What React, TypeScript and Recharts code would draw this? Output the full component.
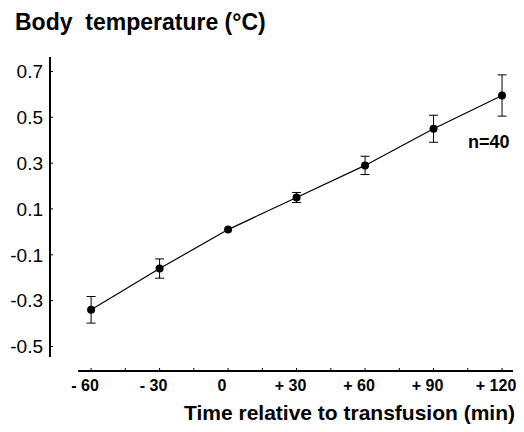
import React from 'react'
import {
  ComposedChart,
  Line,
  XAxis,
  YAxis,
  ErrorBar,
  ReferenceLine,
} from 'recharts'

// time relative to transfusion (min)
const times = [-60, -30, 0, 30, 60, 90, 120]
// mean change in body temperature (°C)
const temps = [-0.34, -0.16, 0.01, 0.15, 0.29, 0.45, 0.595]
// error bar half-length
const errors = [0.058, 0.042, 0, 0.022, 0.04, 0.059, 0.09]

const xTicks = [-60, -45, -30, -15, 0, 15, 30, 45, 60, 75, 90, 105, 120]
const xLabelValues = [-60, -30, 0, 30, 60, 90, 120]
const xLabelTexts = ['- 60', '- 30', '0', '+ 30', '+ 60', '+ 90', '+ 120']
const yTicks = [-0.5, -0.3, -0.1, 0.1, 0.3, 0.5, 0.7]

const data = times.map((t, i) => ({ time: t, temp: temps[i], err: errors[i] }))

const FONT = '"Liberation Sans", Arial, Helvetica, sans-serif'

const X_DOMAIN: [number, number] = [-78, 124.8]
const Y_DOMAIN: [number, number] = [-0.607, 0.763]

const formatX = (v: number) => {
  const idx = xLabelValues.indexOf(v)
  return idx >= 0 ? xLabelTexts[idx] : ''
}

export default function App() {
  return (
    <div style={{ position: 'relative', width: 516, height: 424, fontFamily: FONT, background: '#fff' }}>
      <div
        style={{
          position: 'absolute',
          left: 7,
          top: 3,
          fontSize: 23,
          lineHeight: '23px',
          fontWeight: 'bold',
          whiteSpace: 'pre',
          color: '#000',
        }}
      >
        {'Body  temperature (°C)'}
      </div>

      <ComposedChart
        width={516}
        height={424}
        data={data}
        margin={{ top: 49, right: 11, bottom: 31, left: 0 }}
        style={{ overflow: 'visible' }}
      >
        <XAxis
          dataKey="time"
          type="number"
          domain={X_DOMAIN}
          ticks={xTicks}
          tickFormatter={formatX}
          axisLine={false}
          tickLine={{ stroke: '#000', strokeWidth: 1 }}
          tickSize={-3}
          tickMargin={12}
          height={30}
          interval={0}
          tick={{ fill: '#000', fontSize: 16, fontWeight: 'bold', fontFamily: FONT, dx: -6 }}
        />
        <YAxis
          type="number"
          domain={Y_DOMAIN}
          ticks={yTicks}
          tickFormatter={(v: number) => v.toFixed(1)}
          axisLine={false}
          tickLine={{ stroke: '#000', strokeWidth: 1 }}
          tickSize={-3}
          tickMargin={10}
          width={42}
          interval={0}
          tick={{ fill: '#000', fontSize: 19, fontFamily: FONT }}
        />
        {/* detached axis lines, as in the original figure */}
        <ReferenceLine
          segment={[{ x: X_DOMAIN[0], y: -0.546 }, { x: X_DOMAIN[0], y: Y_DOMAIN[1] }]}
          stroke="#000"
          strokeWidth={2}
          ifOverflow="visible"
        />
        <ReferenceLine
          segment={[{ x: -65.7, y: Y_DOMAIN[0] }, { x: X_DOMAIN[1], y: Y_DOMAIN[0] }]}
          stroke="#000"
          strokeWidth={2}
          ifOverflow="visible"
        />
        <Line
          dataKey="temp"
          type="linear"
          stroke="#000"
          strokeWidth={1.2}
          dot={{ r: 4, fill: '#000', stroke: '#000', strokeWidth: 0 }}
          activeDot={false}
          isAnimationActive={false}
        >
          <ErrorBar dataKey="err" width={4.5} stroke="#000" strokeWidth={1} direction="y" isAnimationActive={false} />
        </Line>
      </ComposedChart>

      <div
        style={{
          position: 'absolute',
          left: 460,
          top: 125,
          fontSize: 18,
          lineHeight: '18px',
          fontWeight: 'bold',
          color: '#000',
        }}
      >
        n=40
      </div>

      <div
        style={{
          position: 'absolute',
          right: 9,
          top: 394,
          fontSize: 21,
          lineHeight: '21px',
          fontWeight: 'bold',
          whiteSpace: 'nowrap',
          color: '#000',
        }}
      >
        Time relative to transfusion (min)
      </div>
    </div>
  )
}
